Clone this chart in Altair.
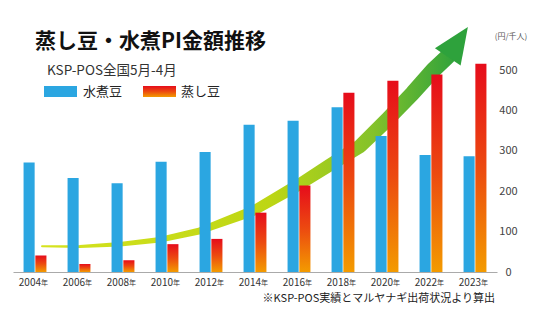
import altair as alt
import pandas as pd

# ---- data ----
years = ["2004", "2006", "2008", "2010", "2012", "2014", "2016", "2018", "2020", "2022", "2023"]
mizuni = [271, 233, 220, 273, 297, 365, 375, 408, 337, 290, 287]   # 水煮豆
mushi = [41, 20, 29, 69, 82, 147, 214, 444, 474, 489, 516]         # 蒸し豆
series_names = ["水煮豆", "蒸し豆"]
y_ticks = [0, 100, 200, 300, 400, 500]

# decorative trend arrow (x in category-index units, y in value units)
arrow_x = [0.66, 1.52, 2.43, 3.34, 4.25, 5.45, 6.52, 7.2, 7.89, 8.5, 9.09, 9.55, 9.89]
arrow_y = [64, 63, 69, 80, 102, 151, 218, 265, 312, 377, 444, 500, 535]
arrow_w = [2, 3, 4.5, 5.5, 7, 10, 12, 13, 14, 15, 15.5, 16, 16]
head_x = [10.11]
head_y = [570]

title_text = "蒸し豆・水煮PI金額推移"
subtitle_text = "KSP-POS全国5月-4月"
unit_text = "(円/千人)"
note_text = "※KSP-POS実績とマルヤナギ出荷状況より算出"

FONT = "Noto Sans CJK JP"
BLUE = "#2ba6e1"
RED_GRAD = {"gradient": "linear", "x1": 0, "y1": 0, "x2": 0, "y2": 1,
            "stops": [{"offset": 0, "color": "#e60c1b"},
                      {"offset": 0.5, "color": "#ec4a10"},
                      {"offset": 1, "color": "#f39b00"}]}
GREEN_GRAD = {"gradient": "linear", "x1": 0, "y1": 0, "x2": 1, "y2": 0,
              "stops": [{"offset": 0, "color": "#d6e31f"},
                        {"offset": 0.55, "color": "#bdd614"},
                        {"offset": 0.8, "color": "#84c22a"},
                        {"offset": 1, "color": "#2fa23c"}]}

W, H = 484, 222
YMAX = 550

rows = []
for i, yr in enumerate(years):
    rows.append({"year": yr, "series": series_names[0], "value": mizuni[i]})
    rows.append({"year": yr, "series": series_names[1], "value": mushi[i]})
bars_df = pd.DataFrame(rows)

yscale = alt.Scale(domain=[0, YMAX], nice=False)
xband = alt.Scale(domain=years, paddingInner=0.48, paddingOuter=0.24)

arrow_df = pd.DataFrame({"x": arrow_x, "y": arrow_y, "w": arrow_w})
xq = alt.Scale(domain=[0, len(years)], nice=False, zero=False)

y_axis = alt.Axis(orient="right", title=None, values=y_ticks, grid=False,
                  domain=False, ticks=False, tickSize=0, labelPadding=11,
                  labelAlign="center", labelFont=FONT, labelFontSize=11,
                  labelColor="#444")

trail = alt.Chart(arrow_df).mark_trail(opacity=1).encode(
    x=alt.X("x:Q", scale=xq, axis=None),
    y=alt.Y("y:Q", scale=yscale, axis=y_axis),
    size=alt.Size("w:Q", scale=None, legend=None),
    color=alt.value(GREEN_GRAD),
)

head = alt.Chart(pd.DataFrame({"x": head_x, "y": head_y})).mark_point(
    shape="M0,-1L0.86,1L-0.86,1Z", filled=True, opacity=1, angle=34, size=1296,
    color="#2ea23c", strokeWidth=0
).encode(
    x=alt.X("x:Q", scale=xq, axis=None),
    y=alt.Y("y:Q", scale=yscale, axis=y_axis),
)

bars = alt.Chart(bars_df).mark_bar(strokeWidth=0).encode(
    x=alt.X("year:N", scale=xband, sort=years,
            axis=alt.Axis(title=None, labelAngle=0, ticks=False, tickSize=0,
                          labelPadding=5, labelAlign="right", labelOffset=6,
                          labelFont=FONT, labelFontSize=10, labelColor="#333",
                          domainColor="#aaaaaa", domainWidth=1.2, grid=False)),
    xOffset=alt.XOffset("series:N", sort=series_names,
                        scale=alt.Scale(paddingInner=0.06)),
    y=alt.Y("value:Q", scale=yscale, axis=y_axis),
    color=alt.condition(alt.datum.series == series_names[1],
                        alt.value(RED_GRAD), alt.value(BLUE)),
)

nen = alt.Chart(pd.DataFrame({"year": years})).mark_text(
    text="年", align="left", dx=6, fontSize=7, font=FONT, color="#333", baseline="middle"
).encode(
    x=alt.X("year:N", scale=xband, sort=years, axis=None),
    y=alt.value(H + 11),
)


def label(txt, x, y, size, weight="normal", align="left", color="#222"):
    return alt.Chart(pd.DataFrame({"t": [txt]})).mark_text(
        align=align, baseline="middle", font=FONT, fontSize=size,
        fontWeight=weight, color=color
    ).encode(x=alt.value(x), y=alt.value(y), text="t:N")


def swatch(x1, x2, y1, y2, fill):
    return alt.Chart(pd.DataFrame({"a": [0]})).mark_rect(strokeWidth=0).encode(
        x=alt.value(x1), x2=alt.value(x2), y=alt.value(y1), y2=alt.value(y2),
        color=alt.value(fill))


texts = [
    label(title_text, 22, -8, 21, weight="bold", color="#111"),
    label(subtitle_text, 34, 21, 13.5, color="#333"),
    swatch(31, 64, 36, 47, BLUE),
    label(series_names[0], 70, 41.5, 13, color="#222"),
    swatch(130, 163, 36, 47, RED_GRAD),
    label(series_names[1], 168, 41.5, 13, color="#222"),
    label(unit_text, 498, -13, 8, align="center", color="#555"),
    label(note_text, 482, 249, 11, align="right", color="#222"),
]

chart = alt.layer(trail, head, bars, nen, *texts).resolve_scale(
    x="independent"
).properties(
    width=W, height=H,
    autosize=alt.AutoSizeParams(type="none"),
    padding={"left": 13, "top": 50, "right": 39, "bottom": 57},
    background="white",
).configure_view(stroke=None)

chart.save("out.html", embed_options={"renderer": "svg", "actions": False})
